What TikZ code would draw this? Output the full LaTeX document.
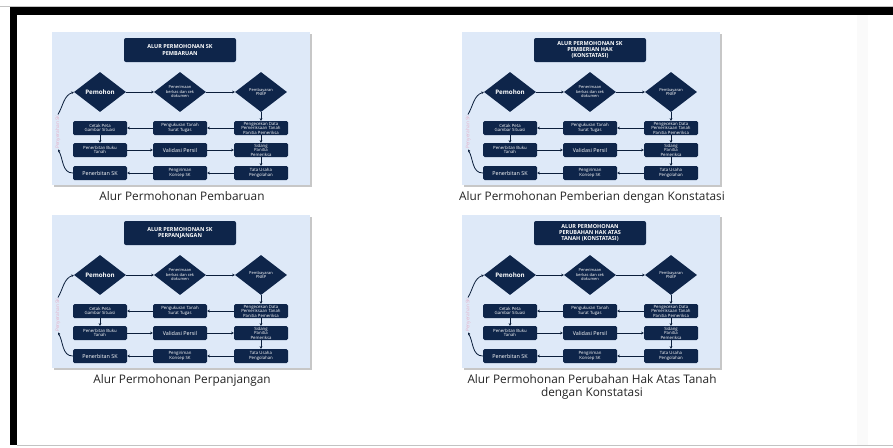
\documentclass[tikz,border=0pt]{standalone}
\usepackage{fontspec}
\setmainfont{Open Sans}
\usetikzlibrary{arrows.meta}
\usetikzlibrary{shapes.geometric}
\definecolor{panelblue}{RGB}{222,233,248}
\definecolor{navy}{RGB}{14,37,74}
\definecolor{framegray}{RGB}{195,195,195}
\definecolor{pinklabel}{RGB}{228,176,200}
\definecolor{captiongray}{RGB}{35,35,35}
\newcommand{\drawarrow}{\draw[-{Stealth[length=2.6pt,width=2.6pt]}, navy!80!black, line width=0.8pt]}

\tikzset{
    decision/.style={diamond, fill=navy, text=white, align=center, inner sep=0pt,
        minimum width=52, minimum height=40, font=\fontsize{4}{4.5}\selectfont},
    stepbox/.style={rectangle, rounded corners=1.5pt, fill=navy, text=white, align=center,
        inner sep=0.5pt, minimum width=54, minimum height=14, font=\fontsize{4.3}{4.6}\selectfont},
    stepbig/.style={stepbox, font=\fontsize{5.4}{6}\selectfont},
    titlebox/.style={rectangle, rounded corners=2pt, fill=navy, text=white, align=center,
        inner sep=2pt, minimum width=112, minimum height=24, font=\bfseries\fontsize{5.5}{6.3}\selectfont},
    caption/.style={anchor=north, align=center, inner sep=0pt, text=captiongray,
        font=\fontsize{11.8}{13}\selectfont}
}

% one flow chart panel: name, x, y, title, caption
\newcommand{\alurflow}[5]{%
    \begin{scope}[shift={(#2,#3)}]
        \fill[black!22] (1.5,1.5) rectangle (259.5,154.5);
        \fill[panelblue] (0,0) rectangle (258,153);
        \node[titlebox] (#1-title) at (128,18) {#4};

        % Draw decisions
        \node[decision, font=\bfseries\fontsize{6.2}{7}\selectfont] (#1-pem) at (48,60) {Pemohon};
        \node[decision] (#1-cek) at (128,60) {Penerimaan\\berkas dan cek\\dokumen};
        \node[decision] (#1-bayar) at (209,60) {Pembayaran\\PNBP};

        % Draw steps
        \node[stepbox] (#1-r1a) at (48,96) {Cetak Peta\\Gambar Situasi};
        \node[stepbox] (#1-r1b) at (128,96) {Pengukuran Tanah\\Surat Tugas};
        \node[stepbox] (#1-r1c) at (209,96) {Pengecekan Data\\Pemeriksaan Tanah\\Panitia Pemeriksa};
        \node[stepbox] (#1-r2a) at (48,118) {Penerbitan Buku\\Tanah};
        \node[stepbig] (#1-r2b) at (128,118) {Validasi Persil};
        \node[stepbox] (#1-r2c) at (209,118) {Sidang\\Panitia\\Pemeriksa};
        \node[stepbig] (#1-r3a) at (48,141) {Penerbitan SK};
        \node[stepbox] (#1-r3b) at (128,141) {Pengiriman\\Konsep SK};
        \node[stepbox] (#1-r3c) at (209,141) {Tata Usaha\\Pengolahan};
        \node[rotate=90, inner sep=0.5pt, text=pinklabel, font=\fontsize{4.8}{5}\selectfont] (#1-done) at (6,100) {Penyerahan SK};

        % Draw connectors
        \drawarrow (#1-pem) -- (#1-cek);
        \drawarrow (#1-cek) -- (#1-bayar);
        \drawarrow (#1-bayar) -- (#1-r1c);
        \drawarrow (#1-r1c) -- (#1-r1b);
        \drawarrow (#1-r1b) -- (#1-r1a);
        \drawarrow (#1-r1a) -- (#1-r2a);
        \drawarrow (#1-r2a) -- (#1-r2b);
        \drawarrow (#1-r2b) -- (#1-r2c);
        \drawarrow (#1-r1c) -- (#1-r2c);
        \drawarrow (#1-r2c) -- (#1-r3c);
        \drawarrow (#1-r3c) -- (#1-r3b);
        \drawarrow (#1-r3b) -- (#1-r3a);
        \drawarrow (#1-r3a.west) to[out=180, in=-60] (#1-done.west);
        \drawarrow (#1-done.east) to[out=60, in=200] (#1-pem.west);

        \node[caption] (#1-caption) at (130,159) {#5};
    \end{scope}
}

\begin{document}
\begin{tikzpicture}[x=1pt, y=-1pt]
    \useasboundingbox (0,0) rectangle (893,447);

    % Draw frame
    \draw[framegray] (0,6) -- (893,6);
    \fill[black] (10,7) rectangle (893,15);
    \fill[black] (10,7) rectangle (17,445);
    \draw[framegray] (17,445.5) -- (893,445.5);
    \fill[black!2] (857,15) rectangle (868,445);

    % Draw panels
    \alurflow{pb}{52}{32}{ALUR PERMOHONAN SK\\PEMBARUAN}{Alur Permohonan Pembaruan}
    \alurflow{pk}{462}{32}{ALUR PERMOHONAN SK\\PEMBERIAN HAK\\(KONSTATASI)}{Alur Permohonan Pemberian dengan Konstatasi}
    \alurflow{pp}{52}{215}{ALUR PERMOHONAN SK\\PERPANJANGAN}{Alur Permohonan Perpanjangan}
    \alurflow{ph}{462}{215}{ALUR PERMOHONAN\\PERUBAHAN HAK ATAS\\TANAH (KONSTATASI)}{Alur Permohonan Perubahan Hak Atas Tanah\\dengan Konstatasi}
\end{tikzpicture}
\end{document}
